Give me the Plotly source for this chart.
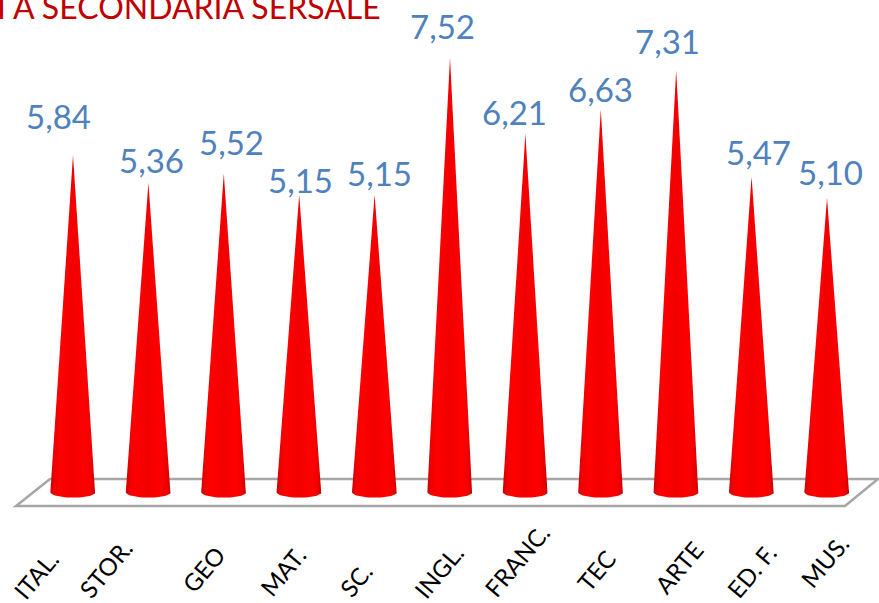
import numpy as np
import plotly.graph_objects as go

materie = ["ITAL.", "STOR.", "GEO", "MAT.", "SC.", "INGL.", "FRANC.", "TEC", "ARTE", "ED. F.", "MUS."]
medie = [5.84, 5.36, 5.52, 5.15, 5.15, 7.52, 6.21, 6.63, 7.31, 5.47, 5.10]
etichette = ["5,84", "5,36", "5,52", "5,15", "5,15", "7,52", "6,21", "6,63", "7,31", "5,47", "5,10"]

# spostamenti delle etichette rispetto alla punta del cono (px)
val_dx = [-15, 3, 8, 1, 5, -8, -11, 0, -9, 7, 3]
val_dy = [39, 23, 32, 15, 22, 32, 22, 20, 29, 24, 26]
# centro delle etichette in basso (px dal centro del cono, px in y)
lab_dx = [-38, -43, -21, -17, -19, -12, -9, -5, 2, -1, -3]
lab_y = [575, 568, 569, 571, 579, 571, 560, 570, 567, 571, 561]

W = 879
H = 603
X0 = 73       # px del primo cono
PASSO = 75.4  # px tra due coni
Y0 = 492      # px del valore zero
SCALA = 57.7  # px per unita'
MEZZA_BASE = 0.30
ELLISSE = 0.10

fig = go.Figure()

t = np.linspace(0, np.pi, 30)
for i, v in enumerate(medie):
    arco_x = i + MEZZA_BASE * np.cos(t)
    arco_y = -ELLISSE * np.sin(t)
    fig.add_trace(go.Scatter(
        x=[i, *arco_x, i],
        y=[v, *arco_y, v],
        mode="lines",
        line=dict(width=0, color="#ff0000"),
        fill="toself",
        fillgradient=dict(
            type="horizontal",
            colorscale=[[0, "#c80000"], [0.08, "#ee0000"], [0.22, "#ff0000"],
                        [0.5, "#f20000"], [0.78, "#ff0000"], [0.92, "#ee0000"], [1, "#c80000"]],
        ),
        hoverinfo="skip",
        showlegend=False,
    ))
    fig.add_annotation(
        x=i, y=v, text=etichette[i], showarrow=False,
        xshift=val_dx[i], yshift=val_dy[i],
        font=dict(family="Lato", size=33, color="#4f81bd"),
    )
    fig.add_annotation(
        x=i, xshift=lab_dx[i], xref="x", xanchor="center",
        y=1 - lab_y[i] / H, yref="paper", yanchor="middle",
        text=materie[i], showarrow=False, textangle=-50,
        font=dict(family="Lato", size=24, color="#000000"),
    )

# pavimento del grafico
fig.add_shape(
    type="path", xref="paper", yref="paper", layer="below",
    path=f"M {16/W} {1-506/H} L {845/W} {1-506/H} L {878/W} {1-479/H} L {50/W} {1-479/H} Z",
    line=dict(color="#a6a6a6", width=2.5),
    fillcolor="#ffffff",
)

fig.add_annotation(
    x=383 / W, xref="paper", xanchor="right",
    y=1 - 28 / H, yref="paper", yanchor="bottom",
    text="I A SECONDARIA SERSALE", showarrow=False,
    font=dict(family="Lato", size=32, color="#c00000"),
)

fig.update_layout(
    width=W,
    height=H,
    margin=dict(l=0, r=0, t=0, b=0),
    paper_bgcolor="#ffffff",
    plot_bgcolor="rgba(0,0,0,0)",
    showlegend=False,
)
fig.update_xaxes(range=[-X0 / PASSO, (W - X0) / PASSO], visible=False)
fig.update_yaxes(range=[(Y0 - H) / SCALA, Y0 / SCALA], visible=False)

fig.write_html(
    "out.html",
    config={"displayModeBar": False},
    post_script="document.body.style.margin='0';document.body.style.overflow='hidden';",
)
